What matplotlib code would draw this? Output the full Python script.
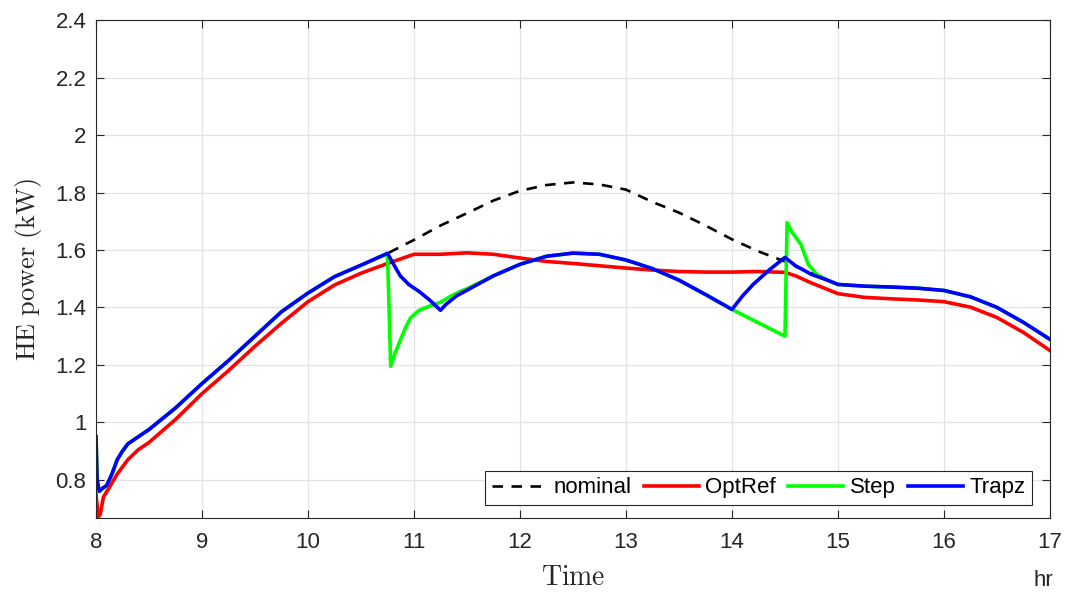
import matplotlib
matplotlib.use("Agg")
import matplotlib.pyplot as plt
import numpy as np

plt.rcParams['font.family'] = ['Liberation Sans', 'DejaVu Sans']
plt.rcParams['mathtext.fontset'] = 'cm'

# ---------------- data ----------------
t_nom = [8.0, 8.01, 8.03, 8.06, 8.1, 8.15, 8.2, 8.25, 8.3, 8.4, 8.5, 8.75, 9.0, 9.25,
         9.5, 9.75, 10.0, 10.25, 10.5, 10.75, 11.0, 11.25, 11.5, 11.75, 12.0, 12.25,
         12.5, 12.75, 13.0, 13.25, 13.5, 13.75, 14.0, 14.25, 14.5, 14.65, 14.75, 15.0,
         15.25, 15.5, 15.75, 16.0, 16.25, 16.5, 16.75, 17.0]
p_nom = [0.95, 0.80, 0.76, 0.77, 0.78, 0.82, 0.87, 0.90, 0.925, 0.95, 0.975, 1.05, 1.135, 1.215,
         1.30, 1.385, 1.45, 1.507, 1.547, 1.588, 1.635, 1.685, 1.728, 1.772, 1.806, 1.826,
         1.835, 1.828, 1.81, 1.767, 1.73, 1.685, 1.637, 1.595, 1.56, 1.535, 1.52, 1.48,
         1.474, 1.471, 1.467, 1.459, 1.437, 1.40, 1.348, 1.289]

t_opt = [8.0, 8.02, 8.04, 8.07, 8.12, 8.2, 8.3, 8.4, 8.5, 8.75, 9.0, 9.25, 9.5, 9.75,
         10.0, 10.25, 10.5, 10.75, 11.0, 11.25, 11.5, 11.75, 12.0, 12.25, 12.5, 12.75,
         13.0, 13.25, 13.5, 13.75, 14.0, 14.25, 14.5, 14.6, 14.75, 15.0, 15.25, 15.5,
         15.75, 16.0, 16.25, 16.5, 16.75, 17.0]
p_opt = [0.75, 0.67, 0.68, 0.74, 0.77, 0.82, 0.87, 0.905, 0.93, 1.01, 1.10, 1.18, 1.265, 1.345,
         1.42, 1.478, 1.519, 1.553, 1.585, 1.585, 1.59, 1.585, 1.572, 1.56, 1.553, 1.545,
         1.537, 1.53, 1.525, 1.523, 1.523, 1.525, 1.522, 1.51, 1.485, 1.448, 1.435, 1.43,
         1.426, 1.42, 1.401, 1.365, 1.313, 1.25]

t_step = [8.0, 8.01, 8.03, 8.06, 8.1, 8.15, 8.2, 8.25, 8.3, 8.4, 8.5, 8.75, 9.0, 9.25,
          9.5, 9.75, 10.0, 10.25, 10.5, 10.75, 10.78, 10.82, 10.87, 10.92, 10.97, 11.05,
          11.15, 11.25, 11.35, 11.45, 11.5, 11.75, 12.0, 12.25, 12.5, 12.75, 13.0, 13.25,
          13.5, 13.75, 14.0, 14.5, 14.52, 14.57, 14.65, 14.72, 14.8, 14.9, 15.0, 15.25,
          15.5, 15.75, 16.0, 16.25, 16.5, 16.75, 17.0]
p_step = [0.95, 0.80, 0.76, 0.77, 0.78, 0.82, 0.87, 0.90, 0.925, 0.95, 0.975, 1.05, 1.135, 1.215,
          1.30, 1.385, 1.45, 1.507, 1.547, 1.588, 1.195, 1.24, 1.285, 1.33, 1.365, 1.39,
          1.405, 1.418, 1.44, 1.458, 1.465, 1.51, 1.55, 1.578, 1.589, 1.585, 1.565, 1.535,
          1.495, 1.445, 1.393, 1.30, 1.695, 1.66, 1.62, 1.55, 1.515, 1.495, 1.48, 1.474,
          1.471, 1.467, 1.459, 1.437, 1.40, 1.348, 1.289]

t_trapz = [8.0, 8.01, 8.03, 8.06, 8.1, 8.15, 8.2, 8.25, 8.3, 8.4, 8.5, 8.75, 9.0, 9.25,
           9.5, 9.75, 10.0, 10.25, 10.5, 10.75, 10.8, 10.87, 10.95, 11.05, 11.15, 11.25,
           11.3, 11.4, 11.5, 11.75, 12.0, 12.25, 12.5, 12.75, 13.0, 13.25, 13.5, 13.75,
           14.0, 14.1, 14.2, 14.35, 14.5, 14.6, 14.75, 14.9, 15.0, 15.25, 15.5, 15.75,
           16.0, 16.25, 16.5, 16.75, 17.0]
p_trapz = [0.95, 0.80, 0.76, 0.77, 0.78, 0.82, 0.87, 0.90, 0.925, 0.95, 0.975, 1.05, 1.135, 1.215,
           1.30, 1.385, 1.45, 1.507, 1.547, 1.588, 1.555, 1.51, 1.48, 1.455, 1.425, 1.39,
           1.41, 1.44, 1.46, 1.51, 1.55, 1.578, 1.589, 1.585, 1.565, 1.535, 1.495, 1.445,
           1.393, 1.44, 1.48, 1.53, 1.574, 1.545, 1.515, 1.495, 1.48, 1.474, 1.471, 1.467,
           1.459, 1.437, 1.40, 1.348, 1.289]

x_ticks = [8, 9, 10, 11, 12, 13, 14, 15, 16, 17]
y_ticks = [0.8, 1.0, 1.2, 1.4, 1.6, 1.8, 2.0, 2.2, 2.4]
y_tick_labels = ['0.8', '1', '1.2', '1.4', '1.6', '1.8', '2', '2.2', '2.4']

# ---------------- figure ----------------
fig = plt.figure(figsize=(10.67, 5.92), dpi=100)
ax = fig.add_axes([0.09, 0.125, 0.894, 0.841])

ax.plot(t_nom, p_nom, '--', color='black', lw=1.9, dashes=(4, 3.2), label='nominal')
ax.plot(t_opt, p_opt, '-', color='#ff0000', lw=2.6, label='OptRef')
ax.plot(t_step, p_step, '-', color='#00ff00', lw=2.6, label='Step')
ax.plot(t_trapz, p_trapz, '-', color='#0000ff', lw=2.6, label='Trapz')

ax.set_xlim(8, 17)
ax.set_ylim(0.667, 2.4)
ax.set_xticks(x_ticks)
ax.set_yticks(y_ticks)
ax.set_yticklabels(y_tick_labels)
ax.tick_params(direction='in', labelsize=16, colors='#262626', length=6, width=0.8,
               top=True, right=True)
ax.tick_params(axis='x', pad=10)
ax.tick_params(axis='y', pad=7)
ax.grid(True, color='#e3e3e3', lw=0.9)
ax.set_axisbelow(True)
for s in ax.spines.values():
    s.set_color('#262626')
    s.set_linewidth(0.8)

ax.set_ylabel(r'$\mathrm{HE\ power\ (kW)}$', fontsize=19, color='#262626', labelpad=8)
ax.set_xlabel(r'$\mathrm{Time}$', fontsize=20, color='#262626')
ax.xaxis.set_label_coords((573 - 96) / 954, -0.095)
fig.text(1043 / 1067, 1 - 580 / 592, 'hr', ha='center', va='center', fontsize=16,
         color='#262626')

leg = ax.legend(loc='lower right', ncol=4, fontsize=16, handlelength=2.5,
                handletextpad=0.27, columnspacing=0.55, borderpad=0.3,
                borderaxespad=0.0, fancybox=False, framealpha=1, edgecolor='#262626',
                bbox_to_anchor=(1 - 18 / 954, 13 / 497))
leg.get_frame().set_linewidth(0.8)

fig.savefig('out.png', dpi=100)
